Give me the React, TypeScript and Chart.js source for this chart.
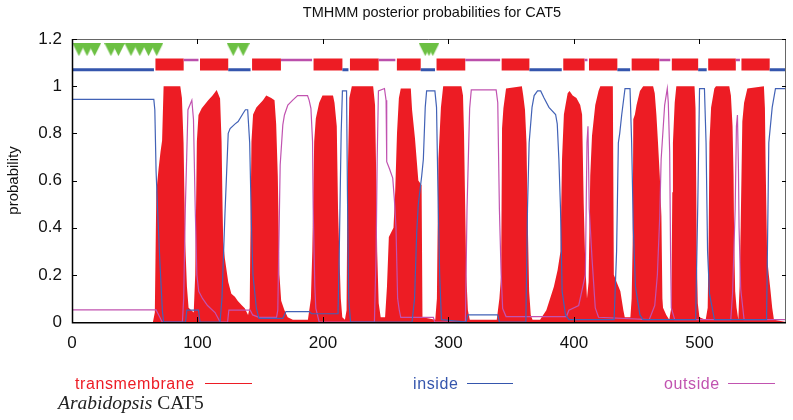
import React, { useEffect, useRef } from "react";
import { Chart, registerables } from "chart.js";

Chart.register(...registerables);

// ---- data ----
const SEQ_LENGTH = 569;
const xTickValues = [0, 100, 200, 300, 400, 500];
const yTickValues = [0, 0.2, 0.4, 0.6, 0.8, 1, 1.2];

const transmembrane: [number, number][] = [
  [0, 0], [64.5, 0], [66, 0.04], [67.2, 0.55], [69, 0.65], [70.5, 0.72], [71.8, 0.77], [73, 1.0],
  [86.3, 1.0], [87.6, 0.95], [88.9, 0.76], [90.2, 0.34], [91.6, 0.15], [92.9, 0.06], [95, 0.05], [97, 0.04],
  [98.2, 0.2], [99.5, 0.765], [100.8, 0.878], [103.4, 0.906], [108.7, 0.941], [112, 0.96], [115.3, 0.984], [118, 0.948],
  [119.2, 0.765], [120, 0.48], [120.5, 0.34], [121.8, 0.27], [124.5, 0.17], [127, 0.12], [129.8, 0.107], [132, 0.09],
  [135.1, 0.072], [137.7, 0.058], [140.3, 0.03], [141.6, 0.06], [143, 0.765], [144.3, 0.88], [146.9, 0.91], [152.2, 0.94],
  [154.8, 0.96], [158.8, 0.95], [161.4, 0.94], [162.7, 0.84], [164, 0.62], [165.3, 0.2], [166.7, 0.09], [169.3, 0.05],
  [171.9, 0.02], [176, 0.01], [188, 0.01], [190.4, 0.1], [191.5, 0.3], [193, 0.765], [194.3, 0.863], [197, 0.93],
  [199.6, 0.96], [208, 0.96], [209.2, 0.93], [211, 0.83], [212, 0.48], [213, 0.3], [214.2, 0.1], [215.4, 0.02],
  [217.5, 0.01], [218.8, 0.05], [219.5, 0.55], [221, 0.95], [223, 1.0], [240, 1.0], [241.5, 0.92], [242.5, 0.6],
  [243.2, 0.3], [244.4, 0.08], [246, 0.02], [249.5, 0.02], [251, 0.15], [252.5, 0.36], [256.2, 0.4], [257.6, 0.56],
  [259, 0.8], [260.5, 0.95], [262, 0.99], [270, 0.99], [271, 0.9], [273.3, 0.78], [276, 0.6], [278.6, 0.58],
  [279.3, 0.02], [289.5, 0.01], [290.8, 0.1], [292, 0.69], [294, 0.91], [295.8, 1.0], [310.3, 1.0], [311.6, 0.96],
  [312.4, 0.8], [313.3, 0.5], [314.2, 0.2], [315.5, 0.05], [317, 0.01], [338.5, 0.01], [340.6, 0.1], [342, 0.2],
  [342.7, 0.82], [343.8, 0.906], [345.9, 0.99], [358.5, 1.0], [359.6, 0.96], [361, 0.9], [362.2, 0.76], [363, 0.48],
  [364.3, 0.13], [365.6, 0.03], [367, 0.01], [373, 0.01], [378, 0.05], [381, 0.1], [384, 0.15], [387, 0.22],
  [389.3, 0.3], [390.5, 0.69], [392, 0.88], [393.3, 0.92], [395, 0.97], [396.5, 0.98], [399, 0.96], [402, 0.95],
  [405, 0.92], [406.5, 0.88], [407.8, 0.5], [409, 0.25], [410.4, 0.1], [411.7, 0.17], [413, 0.62], [414.4, 0.79],
  [417, 0.92], [419.6, 0.98], [421, 1.0], [431, 1.0], [431.8, 0.2], [434, 0.17], [437, 0.13], [439.4, 0.05],
  [440.5, 0.02], [445, 0.02], [446, 0.1], [446.8, 0.33], [447.3, 0.86], [448.6, 0.88], [449.9, 0.92], [452.6, 0.98],
  [455.2, 1.0], [463.1, 1.0], [464.4, 0.97], [465.7, 0.88], [467, 0.76], [468.4, 0.62], [469.7, 0.45], [470.5, 0.1],
  [471, 0.06], [473.6, 0.03], [476, 0.01], [477.6, 0.06], [478.4, 0.55], [478.9, 0.76], [480.3, 0.93], [481.6, 1.0],
  [496.1, 1.0], [496.9, 0.906], [497.4, 0.62], [497.9, 0.27], [498.7, 0.08], [500, 0.02], [505, 0.01], [506.6, 0.06],
  [507.4, 0.37], [508, 0.76], [509.3, 0.91], [511.9, 0.99], [513.2, 1.0], [523.8, 1.0], [525.1, 0.96], [526.4, 0.83],
  [527.2, 0.62], [527.7, 0.34], [528.5, 0.13], [529.6, 0.06], [531, 0.01], [532, 0.15], [532.9, 0.41], [534.2, 0.85],
  [535.6, 0.93], [538.2, 0.99], [551.4, 1.0], [552.2, 0.906], [552.7, 0.69], [554, 0.27], [555.3, 0.2], [556.7, 0.13],
  [558, 0.06], [559.4, 0.01], [569, 0],
];

const inside: [number, number][] = [
  [0, 0.944], [65.2, 0.944], [66, 0.9], [67, 0.64], [68.5, 0.44], [70, 0.26], [72, 0.05], [73, 0],
  [90.5, 0], [91.5, 0.05], [100.8, 0.05], [102, 0], [118, 0], [119.5, 0.1], [121.9, 0.46], [124.5, 0.8],
  [126, 0.82], [130, 0.84], [132.4, 0.85], [136.4, 0.885], [138.2, 0.9], [140, 0.9], [141.6, 0.76], [143, 0.41],
  [144.2, 0.2], [146.9, 0.06], [149, 0.015], [168, 0.015], [170.5, 0.044], [189, 0.044], [191, 0.035], [212, 0.035],
  [213, 0.3], [214.5, 0.8], [215.5, 0.98], [218.8, 0.98], [219.5, 0.55], [220.5, 0.1], [222, 0], [271, 0],
  [273, 0.1], [274.7, 0.38], [276, 0.5], [278.7, 0.62], [280, 0.69], [281.5, 0.91], [282.6, 0.98], [289.2, 0.98],
  [290.5, 0.91], [291.9, 0.48], [293, 0.2], [294.4, 0.01], [314, 0], [315.5, 0.03], [339.3, 0.03], [340.6, 0],
  [361.7, 0], [363, 0.48], [364.3, 0.76], [366.6, 0.91], [368.3, 0.96], [371, 0.98], [373.5, 0.98], [376.2, 0.95],
  [380.1, 0.91], [385.4, 0.88], [386.7, 0.84], [388, 0.69], [389.3, 0.48], [390.6, 0.13], [393.3, 0.03], [396, 0.01],
  [432, 0.01], [434, 0.3], [435.4, 0.76], [436.5, 0.8], [438.1, 0.88], [440.7, 0.99], [444.7, 0.99], [446, 0.76],
  [447.3, 0.4], [449, 0.15], [452.6, 0.03], [455, 0.01], [497, 0.01], [498.7, 0.5], [500.1, 0.99], [504, 0.99],
  [505.3, 0.76], [506.5, 0.3], [508, 0.12], [512, 0.01], [553.5, 0.01], [555.3, 0.76], [558, 0.91], [560.6, 0.99],
  [569, 0.99],
];

const outside: [number, number][] = [
  [0, 0.051], [67, 0.051], [70, 0.02], [71.8, 0], [88, 0], [89, 0.1], [90.3, 0.48], [92.4, 0.9],
  [95.5, 0.94], [96.8, 0.86], [98.2, 0.48], [99.5, 0.2], [101, 0.13], [104, 0.1], [108, 0.07], [114, 0.04],
  [118, 0], [124, 0], [125, 0.05], [142, 0.05], [144, 0.03], [149, 0.02], [163, 0.02], [164, 0.05],
  [165.9, 0.666], [168, 0.836], [169.3, 0.878], [172, 0.92], [175.9, 0.941], [179.8, 0.96], [187.7, 0.96], [189, 0.94],
  [190.4, 0.906], [191.7, 0.765], [192.2, 0.48], [193.5, 0.15], [194.3, 0.058], [197, 0], [241, 0], [242.4, 0.3],
  [243.2, 0.69], [244.2, 0.98], [249, 0.99], [250.3, 0.94], [250.8, 0.68], [253, 0.65], [255.6, 0.61], [256.9, 0.52],
  [258.2, 0.4], [259.5, 0.1], [260.8, 0.05], [262, 0.02], [288, 0.02], [289, 0], [313.5, 0], [314.8, 0.48],
  [316.9, 0.906], [318.2, 0.984], [338, 0.984], [339.3, 0.93], [340.6, 0.48], [342, 0.2], [343.2, 0.057], [345.9, 0.023],
  [394, 0.023], [396, 0.05], [403.8, 0.07], [409.1, 0.2], [410.4, 0.76], [411.2, 0.83], [412.2, 0.48], [414.4, 0.27],
  [417, 0.06], [419.6, 0.02], [460, 0.01], [464.4, 0.07], [466.5, 0.2], [468.4, 0.45], [469.5, 0.69], [472.3, 0.92],
  [474.4, 0.99], [475.2, 0.93], [476.3, 0.72], [477, 0.3], [477.6, 0.06], [480.3, 0.01], [525, 0.01], [526.4, 0.12],
  [528.5, 0.48], [529.5, 0.83], [530.3, 0.878], [531.1, 0.65], [531.6, 0.4], [532.9, 0.14], [535.6, 0.01], [569, 0.01],
];

// predicted helices (start, end) shown in the topology bar
const helices: [number, number][] = [
  [66.5, 89], [102, 124.5], [143.5, 166.5], [192.5, 215.5], [221.5, 244.4], [258.9, 277.9], [290.5, 313.4],
  [342.4, 364.5], [391.5, 408.5], [412, 434.6], [446, 468], [478, 499], [507, 529], [533.5, 556],
];

// green marker positions (residue)
const markers: number[] = [5.5, 12, 18, 31, 37, 47, 54, 61, 67.5, 128.5, 136.4, 281.5, 284.5, 287.5];

// ---- styling ----
const RED = "#ed1c24";
const BLUE = "#4262b6";
const BLUE_TOPO = "#3556ad";
const MAGENTA = "#c153b0";
const MAGENTA_TOPO = "#bb4fab";
const GREEN = "#6cc043";
const TOPO_TM_LEVEL = 1.092;
const TOPO_IN_LEVEL = 1.07;
const TOPO_OUT_LEVEL = 1.111;
const MARKER_LEVEL = 1.155;
const LOOP_GAP = 1.2;
const SANS = "'Liberation Sans', Arial, Helvetica, sans-serif";

const toXY = (arr: [number, number][]) => arr.map(([x, y]) => ({ x, y }));

function buildTopology() {
  const tm: any[] = [];
  const inn: any[] = [];
  const out: any[] = [];
  helices.forEach(([s, e], i) => {
    if (i > 0) tm.push({ x: (s + helices[i - 1][1]) / 2, y: null });
    tm.push({ x: s, y: TOPO_TM_LEVEL }, { x: e, y: TOPO_TM_LEVEL });
  });
  const starts = [0, ...helices.map((h) => h[1])];
  const ends = [...helices.map((h) => h[0] - LOOP_GAP), SEQ_LENGTH];
  starts.forEach((s, i) => {
    const e = ends[i];
    const isInside = i % 2 === 0;
    const target = isInside ? inn : out;
    const level = isInside ? TOPO_IN_LEVEL : TOPO_OUT_LEVEL;
    if (target.length) target.push({ x: s - 0.01, y: null });
    target.push({ x: s, y: level }, { x: e, y: level });
  });
  return { tm, inn, out };
}

const framePlugin = {
  id: "frameTicks",
  afterDatasetsDraw(chart: any) {
    const { ctx, chartArea } = chart;
    const { left, right, top, bottom } = chartArea;
    const xs = chart.scales.x;
    const ys = chart.scales.y;
    ctx.save();
    ctx.lineWidth = 1;
    ctx.strokeStyle = "#666";
    ctx.beginPath();
    ctx.moveTo(left, top + 0.5);
    ctx.lineTo(right - 0.5, top + 0.5);
    ctx.lineTo(right - 0.5, bottom);
    ctx.stroke();
    ctx.strokeStyle = "#000";
    ctx.lineWidth = 1.5;
    ctx.beginPath();
    ctx.moveTo(left + 0.5, top);
    ctx.lineTo(left + 0.5, bottom + 0.75);
    ctx.lineTo(right, bottom + 0.75);
    ctx.stroke();
    ctx.lineWidth = 1;
    ctx.beginPath();
    xs.ticks.forEach((t: any) => {
      const px = Math.round(xs.getPixelForValue(t.value)) + 0.5;
      ctx.moveTo(px, bottom);
      ctx.lineTo(px, bottom - 5);
      ctx.moveTo(px, top);
      ctx.lineTo(px, top + 5);
    });
    ys.ticks.forEach((t: any) => {
      const py = Math.round(ys.getPixelForValue(t.value)) + 0.5;
      ctx.moveTo(left, py);
      ctx.lineTo(left + 5, py);
      ctx.moveTo(right, py);
      ctx.lineTo(right - 4, py);
    });
    ctx.stroke();
    ctx.restore();
  },
};

export default function App() {
  const ref = useRef<HTMLCanvasElement>(null);

  useEffect(() => {
    const canvas = ref.current;
    if (!canvas) return;
    const tri = document.createElement("canvas");
    tri.width = 13;
    tri.height = 13;
    const tctx = tri.getContext("2d")!;
    tctx.fillStyle = GREEN;
    tctx.beginPath();
    tctx.moveTo(0, 0);
    tctx.lineTo(13, 0);
    tctx.lineTo(6.5, 13);
    tctx.closePath();
    tctx.fill();

    const topo = buildTopology();
    const chart = new Chart(canvas, {
      type: "line",
      data: {
        datasets: [
          {
            label: "markers",
            data: markers.map((x) => ({ x, y: MARKER_LEVEL })),
            showLine: false,
            pointStyle: tri as any,
            pointRadius: 7,
            borderWidth: 0,
          },
          {
            label: "topo-inside",
            data: topo.inn,
            borderColor: BLUE_TOPO,
            borderWidth: 3,
            pointRadius: 0,
            spanGaps: false,
            borderCapStyle: "butt",
          },
          {
            label: "topo-outside",
            data: topo.out,
            borderColor: MAGENTA_TOPO,
            borderWidth: 2.5,
            pointRadius: 0,
            spanGaps: false,
            borderCapStyle: "butt",
          },
          {
            label: "topo-tm",
            data: topo.tm,
            borderColor: RED,
            borderWidth: 12,
            pointRadius: 0,
            spanGaps: false,
            borderCapStyle: "butt",
          },
          {
            label: "inside",
            data: toXY(inside),
            borderColor: BLUE,
            borderWidth: 1.2,
            pointRadius: 0,
            tension: 0,
          },
          {
            label: "outside",
            data: toXY(outside),
            borderColor: MAGENTA,
            borderWidth: 1.2,
            pointRadius: 0,
            tension: 0,
          },
          {
            label: "transmembrane",
            data: toXY(transmembrane),
            borderColor: RED,
            backgroundColor: RED,
            borderWidth: 0,
            pointRadius: 0,
            fill: "origin",
            tension: 0,
          },
        ],
      },
      options: {
        responsive: false,
        animation: false,
        devicePixelRatio: 1,
        events: [],
        layout: { padding: { top: 39, right: 1, left: 0, bottom: 0 } },
        plugins: {
          legend: { display: false },
          title: { display: false },
          tooltip: { enabled: false },
        },
        scales: {
          x: {
            type: "linear",
            min: 0,
            max: SEQ_LENGTH,
            grid: { display: false },
            border: { display: false },
            afterFit: (s: any) => {
              s.height = 98;
            },
            afterBuildTicks: (s: any) => {
              s.ticks = xTickValues.map((v) => ({ value: v }));
            },
            ticks: {
              includeBounds: false,
              padding: 3,
              color: "#111",
              font: { family: SANS, size: 17 },
              callback: (v: any) => String(v),
            },
          },
          y: {
            type: "linear",
            min: 0,
            max: 1.2,
            grid: { display: false },
            border: { display: false },
            afterFit: (s: any) => {
              s.width = 72;
            },
            afterBuildTicks: (s: any) => {
              s.ticks = yTickValues.map((v) => ({ value: v }));
            },
            ticks: {
              padding: 2,
              color: "#111",
              font: { family: SANS, size: 17 },
              callback: (v: any) => String(Math.round(v * 10) / 10),
            },
            title: {
              display: true,
              text: "probability",
              color: "#111",
              font: { family: SANS, size: 15 },
              padding: { top: 5, bottom: 0 },
            },
          },
        },
      },
      plugins: [framePlugin],
    });
    return () => chart.destroy();
  }, []);

  const legendText = (color: string): React.CSSProperties => ({
    position: "absolute",
    top: 376,
    fontFamily: SANS,
    fontSize: 16,
    lineHeight: "16px",
    letterSpacing: "0.6px",
    color,
    whiteSpace: "nowrap",
  });
  const legendLine = (color: string, left: number, width: number): React.CSSProperties => ({
    position: "absolute",
    left,
    top: 383,
    width,
    height: 0,
    borderTop: `1px solid ${color}`,
  });

  return (
    <div style={{ position: "fixed", left: 0, top: 0, width: 793, height: 420, background: "#fff", overflow: "hidden" }}>
      <canvas ref={ref} width={793} height={420} style={{ position: "absolute", left: 0, top: 0, width: 793, height: 420 }} />
      <div
        style={{
          position: "absolute",
          left: 0,
          top: 4,
          width: 864,
          textAlign: "center",
          fontFamily: SANS,
          fontSize: 14.5,
          lineHeight: "16px",
          color: "#111",
          whiteSpace: "nowrap",
        }}
      >
        TMHMM posterior probabilities for CAT5
      </div>
      <div style={{ ...legendText(RED), left: 75 }}>transmembrane</div>
      <div style={legendLine(RED, 205, 47)} />
      <div style={{ ...legendText(BLUE_TOPO), left: 413 }}>inside</div>
      <div style={legendLine(BLUE_TOPO, 467, 46)} />
      <div style={{ ...legendText(MAGENTA), left: 664 }}>outside</div>
      <div style={legendLine(MAGENTA, 728, 47)} />
      <div
        style={{
          position: "absolute",
          left: 58,
          top: 393,
          fontFamily: "'Liberation Serif', 'Times New Roman', serif",
          fontSize: 19.5,
          lineHeight: "20px",
          color: "#222",
          whiteSpace: "nowrap",
        }}
      >
        <i>Arabidopsis</i> CAT5
      </div>
    </div>
  );
}
